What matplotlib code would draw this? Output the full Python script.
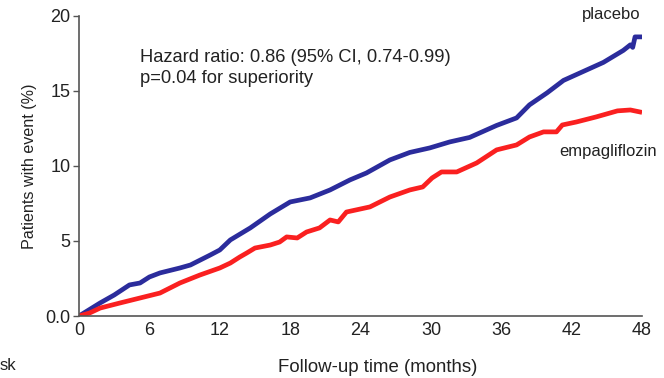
import matplotlib.pyplot as plt

plt.rcParams['font.family'] = ['Liberation Sans', 'DejaVu Sans']

# cumulative event rates (%) read per month of follow-up
placebo_months = [0, 1.8, 3.0, 4.3, 5.2, 6.0, 6.9, 8.6, 9.5, 11.2, 12.0, 12.9, 14.6,
                  16.3, 18.0, 19.7, 21.4, 23.1, 24.5, 26.5, 28.2, 29.9, 31.6, 33.3,
                  35.6, 37.3, 38.4, 39.9, 41.3, 43.0, 44.7, 46.4, 47.0, 47.2, 47.4, 48.0]
placebo_rate = [0, 0.87, 1.4, 2.07, 2.2, 2.6, 2.87, 3.2, 3.4, 4.07, 4.4, 5.07, 5.87,
                6.8, 7.6, 7.87, 8.4, 9.07, 9.53, 10.4, 10.9, 11.2, 11.6, 11.9,
                12.7, 13.2, 14.07, 14.87, 15.7, 16.3, 16.9, 17.7, 18.07, 17.9, 18.6, 18.6]

empa_months = [0, 0.9, 1.8, 3.5, 5.2, 6.9, 8.6, 10.3, 12.0, 12.9, 13.7, 14.3, 15.0,
               16.3, 17.1, 17.7, 18.6, 19.4, 20.5, 21.4, 22.1, 22.8, 24.8, 26.5,
               28.2, 29.3, 30.1, 30.9, 32.2, 33.9, 35.6, 37.3, 38.4, 39.6, 40.7,
               41.2, 42.4, 44.1, 45.9, 47.0, 47.8]
empa_rate = [0, 0.2, 0.53, 0.87, 1.2, 1.53, 2.2, 2.73, 3.2, 3.53, 3.93, 4.2, 4.53,
             4.73, 4.93, 5.27, 5.2, 5.6, 5.87, 6.4, 6.27, 6.93, 7.27, 7.93,
             8.4, 8.6, 9.2, 9.6, 9.6, 10.2, 11.07, 11.4, 11.93, 12.27, 12.27,
             12.73, 12.93, 13.27, 13.67, 13.73, 13.6]

x_ticks = [0, 6, 12, 18, 24, 30, 36, 42, 48]
y_ticks = [0, 5, 10, 15, 20]
y_tick_labels = ['0.0', '5', '10', '15', '20']

fig = plt.figure(figsize=(6.64, 3.78), dpi=100)
ax = fig.add_axes([0.119, 0.164, 0.848, 0.794])

ax.plot(placebo_months, placebo_rate, color='#2b2c9c', lw=3.4, solid_joinstyle='round')
ax.plot(empa_months, empa_rate, color='#fa2020', lw=3.4, solid_joinstyle='round')

ax.set_xlim(0, 48)
ax.set_ylim(0, 20)
ax.set_xticks(x_ticks)
ax.set_yticks(y_ticks)
ax.set_yticklabels(y_tick_labels)
ax.tick_params(axis='x', length=0, pad=4, labelsize=13, labelcolor='#222222')
ax.tick_params(axis='y', length=4, width=1, color='#555555', pad=2,
               labelsize=13, labelcolor='#222222')

for side in ['top', 'right']:
    ax.spines[side].set_visible(False)
for side in ['left', 'bottom']:
    ax.spines[side].set_color('#555555')
    ax.spines[side].set_linewidth(1.2)

ax.set_ylabel('Patients with event (%)', fontsize=11.6, color='#222222', labelpad=6)
fig.text(378 / 664, 1 - 367 / 378, 'Follow-up time (months)', fontsize=13.4,
         color='#222222', ha='center', va='center')

ax.text(5.2, 16.55, 'Hazard ratio: 0.86 (95% CI, 0.74-0.99)\np=0.04 for superiority',
        fontsize=13.2, color='#222222', va='center', linespacing=1.3)
ax.text(45.4, 20.07, 'placebo', fontsize=12, color='#222222', ha='center', va='center')
ax.text(45.1, 10.93, 'empagliflozin', fontsize=12, color='#222222', ha='center', va='center')

# tail of the number-at-risk header
fig.text(0.0, 1 - 365 / 378, 'sk', fontsize=12, color='#222222', ha='left', va='center')

fig.savefig('out.png', dpi=100)
